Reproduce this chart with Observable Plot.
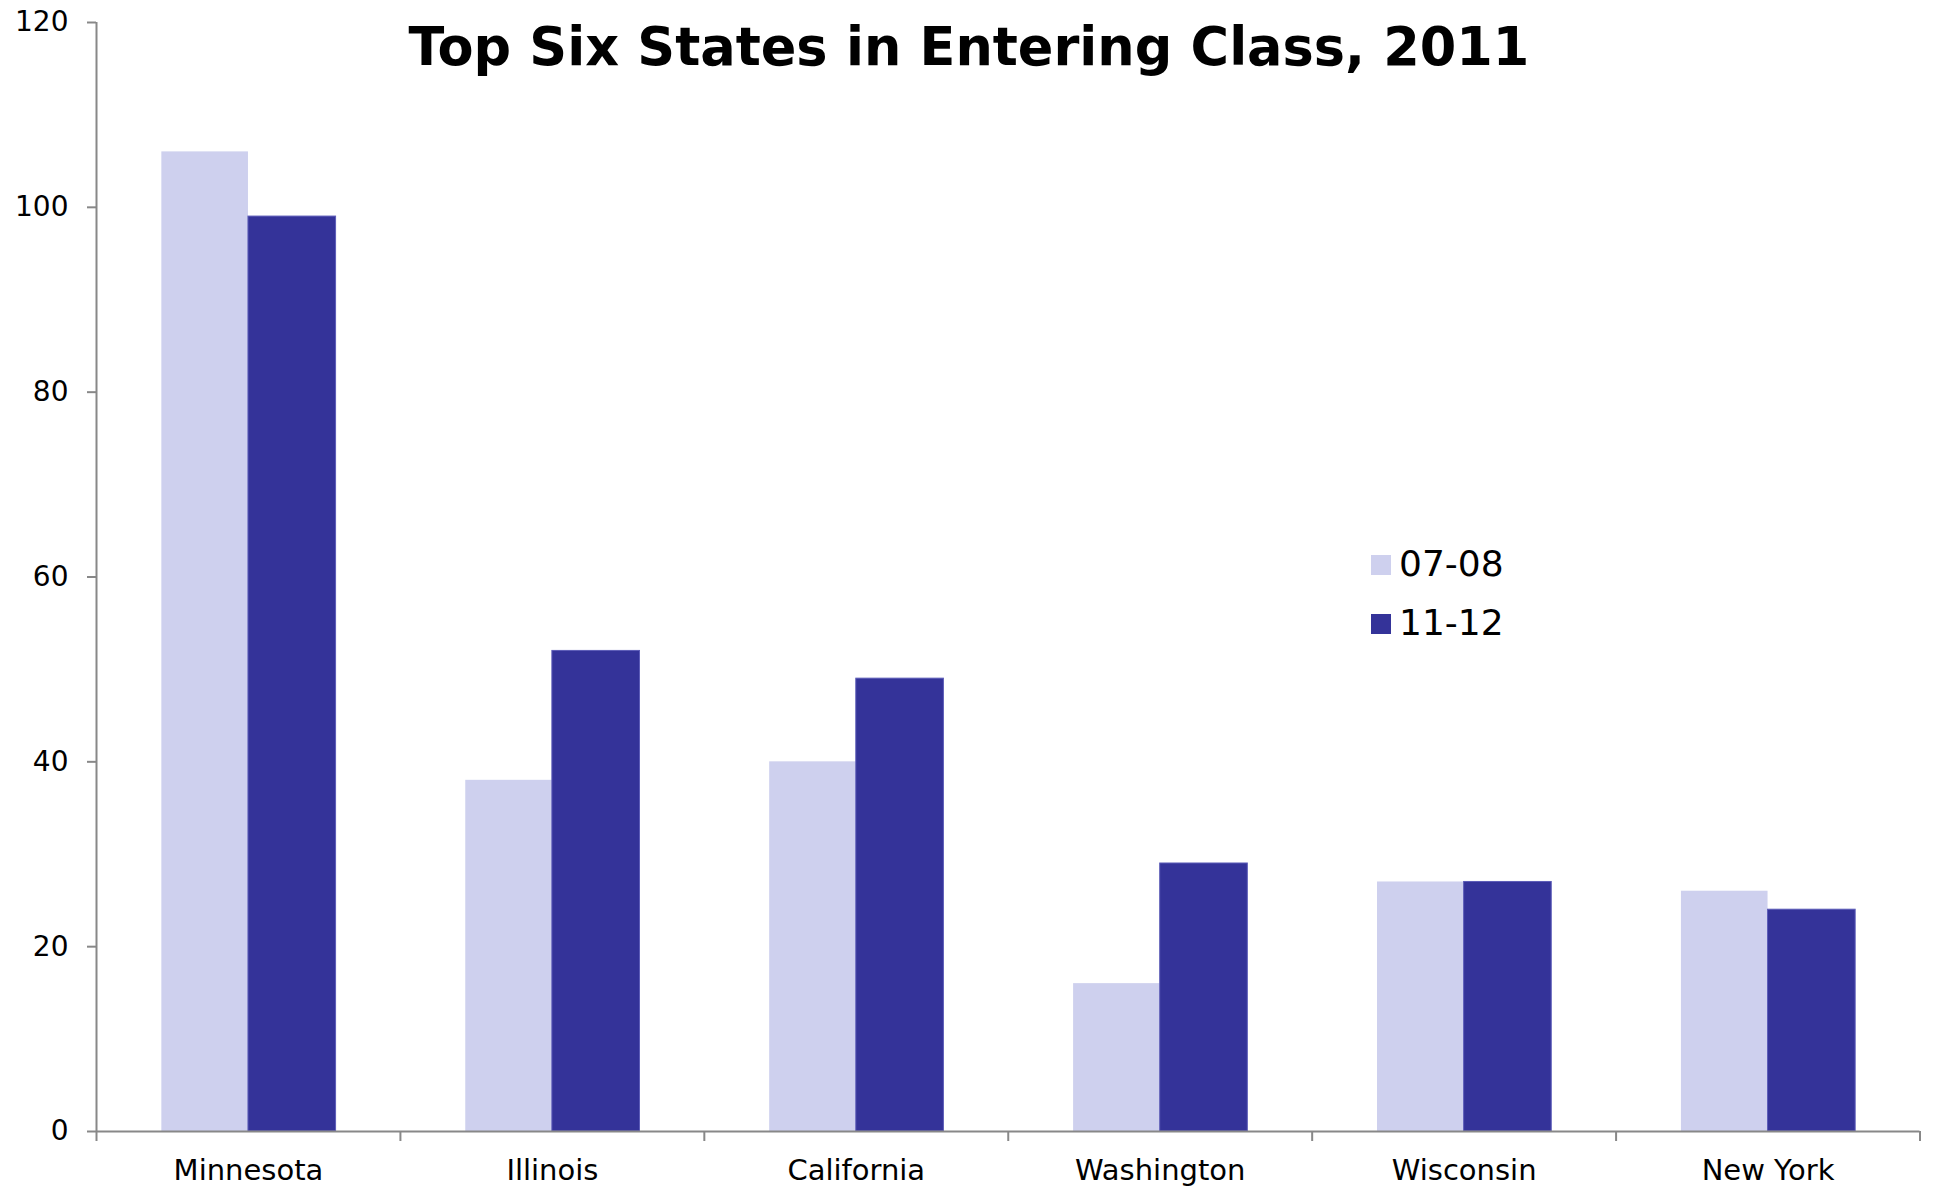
<!DOCTYPE html>
<html><head><meta charset="utf-8">
<script src="https://cdn.jsdelivr.net/npm/d3@7"></script>
<script src="https://cdn.jsdelivr.net/npm/@observablehq/plot@0.6"></script>
<style>
html,body{margin:0;padding:0;background:#fff;}
#wrap{position:relative;width:1933px;height:1186px;overflow:hidden;background:#fff;}
#title{position:absolute;left:0;width:1938px;text-align:center;top:21px;font-family:"DejaVu Sans",Verdana,sans-serif;font-weight:bold;font-size:52.5px;line-height:52px;color:#000;white-space:nowrap;}
#legend{position:absolute;left:1371px;top:546px;font-family:"DejaVu Sans",Verdana,sans-serif;font-size:36px;color:#000;}
.row{position:absolute;left:0;height:36px;line-height:36px;white-space:nowrap;}
.sw{position:absolute;left:0;top:9px;width:20px;height:20px;}
.lb{position:absolute;left:28px;top:0;}
</style>
</head><body>
<div id="wrap">
<div id="plot"></div>
<div id="title"></div>
<div id="legend"></div>
</div>
<script>
const titleText = "Top Six States in Entering Class, 2011";
const states = ["Minnesota","Illinois","California","Washington","Wisconsin","New York"];
const v0708 = [106,38,40,16,27,26];
const v1112 = [99,52,49,29,27,24];
const series = ["07-08","11-12"];
const colors = ["#CED0EE","#343399"];
const yTicks = [0,20,40,60,80,100,120];

const W=1933,H=1186,ML=96,MR=13.5,MT=22,MB=55;
const bw=(W-ML-MR)/states.length;
const outer=0.215*bw, half=0.5*bw;
const gray="#888888";
const data = states.map((s,i)=>({state:s, a:v0708[i], b:v1112[i]}));

const chart = Plot.plot({
  width:W,height:H,marginLeft:ML,marginRight:MR,marginTop:MT,marginBottom:MB,
  style:{fontFamily:'"DejaVu Sans", Verdana, sans-serif',fontSize:"28px",background:"#fff",color:"#000"},
  x:{type:"band",domain:states,padding:0,round:false,label:null},
  y:{domain:[0,120],ticks:yTicks,label:null},
  marks:[
    Plot.barY(data,{x:"state",y:"a",fill:colors[0],insetLeft:outer,insetRight:half}),
    Plot.barY(data,{x:"state",y:"b",fill:colors[1],stroke:"#5c5cb8",strokeWidth:1,insetLeft:half,insetRight:outer-1}),
    Plot.ruleX([states[0]],{x:d=>d,dx:-bw/2,stroke:gray,strokeWidth:2}),
    Plot.ruleY([0],{stroke:gray,strokeWidth:2}),
    Plot.ruleX(states,{x:d=>d,y1:0,y2:0,insetBottom:-10,dx:-bw/2,stroke:gray,strokeWidth:2}),
    Plot.ruleX([states[states.length-1]],{x:d=>d,y1:0,y2:0,insetBottom:-10,dx:bw/2,stroke:gray,strokeWidth:2}),
    Plot.axisY({ticks:yTicks,tickSize:9,tickPadding:19,stroke:gray,strokeWidth:2,fill:"#000",label:null,fontSize:28}),
    Plot.axisX({tickSize:0,tickPadding:28,label:null,fill:"#000",fontSize:29})
  ]
});
document.getElementById("plot").appendChild(chart);
document.getElementById("title").textContent = titleText;
const lg = document.getElementById("legend");
series.forEach((s,i)=>{
  const r=document.createElement("div");r.className="row";r.style.top=(59*i)+"px";
  const sw=document.createElement("div");sw.className="sw";sw.style.background=colors[i];
  const lb=document.createElement("div");lb.className="lb";lb.textContent=s;
  r.appendChild(sw);r.appendChild(lb);lg.appendChild(r);
});
</script>
</body></html>
